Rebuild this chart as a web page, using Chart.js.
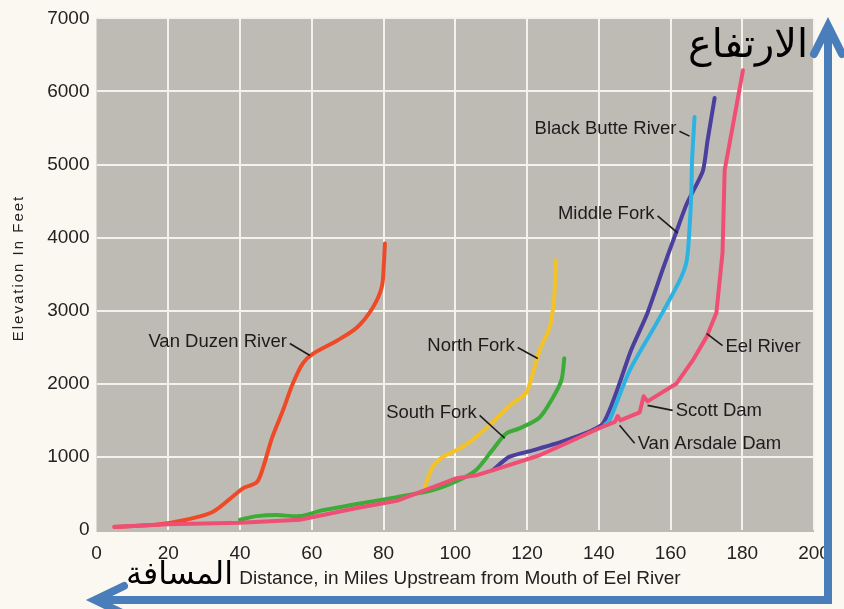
<!DOCTYPE html>
<html>
<head>
<meta charset="utf-8">
<script src="https://cdn.jsdelivr.net/npm/chart.js@4.4.1/dist/chart.umd.min.js"></script>
<style>
  body { margin: 0; background: #faf8f0; }
  canvas { display: block; }
</style>
</head>
<body>
<canvas id="profileChart" width="844" height="609"></canvas>
<script>
// river profiles: miles upstream from the mouth of the Eel / elevation in feet
var eelMiles = [5, 20, 40, 56.7, 72.6, 83.7, 94, 100.4, 106, 112.4, 123.5, 131, 140, 144.5, 145.3, 146, 151.4, 152.5, 153.6, 161.7, 166.2, 170.1, 172.8, 174.5, 175.1, 180.2];
var eelFeet = [40, 80, 100, 140, 300, 400, 590, 710, 750, 846, 1023, 1187, 1390, 1480, 1560, 1500, 1610, 1830, 1760, 2005, 2320, 2646, 2974, 3793, 4925, 6290];

var vanDuzenMiles = [5, 17, 25, 32.5, 39, 41, 44.7, 46.4, 49, 52, 54.7, 57.5, 60.3, 67, 72.6, 77, 79.5, 80.1, 80.4];
var vanDuzenFeet = [45, 75, 140, 250, 500, 575, 655, 850, 1270, 1640, 2000, 2280, 2410, 2590, 2770, 3040, 3320, 3640, 3920];

var southForkMiles = [40, 44.7, 50.3, 56.7, 63, 72.6, 83.7, 93.7, 101, 105.8, 110.3, 114.2, 117.9, 123.5, 127.2, 129.6, 130.4];
var southForkFeet = [140, 190, 205, 190, 270, 355, 450, 545, 680, 820, 1090, 1320, 1390, 1540, 1810, 2050, 2350];

var northForkMiles = [91.5, 93.7, 96.5, 100.3, 104.7, 110.3, 115.9, 119.8, 121.6, 123.5, 126.3, 127.5, 127.9, 128];
var northForkFeet = [590, 860, 1000, 1090, 1230, 1470, 1730, 1880, 2140, 2460, 2770, 3140, 3510, 3690];

var middleForkMiles = [110.5, 115, 121.6, 131, 141.2, 149, 153.5, 158, 161.7, 164.5, 169, 170.3, 172.3];
var middleForkFeet = [820, 1000, 1090, 1230, 1460, 2460, 2960, 3590, 4090, 4460, 4910, 5320, 5910];

var blackButteMiles = [141.7, 143, 148.6, 156, 162.5, 164.5, 165.3, 165.8, 166, 166.7];
var blackButteFeet = [1440, 1500, 2180, 2820, 3410, 3680, 4130, 4600, 5050, 5650];

var mileTicks = [0, 20, 40, 60, 80, 100, 120, 140, 160, 180, 200];
var feetTicks = [0, 1000, 2000, 3000, 4000, 5000, 6000, 7000];

// callouts: text, leader start and leader tip in data units
var noteText = ['Van Duzen River', 'North Fork', 'South Fork', 'Black Butte River', 'Middle Fork', 'Eel River', 'Scott Dam', 'Van Arsdale Dam'];
var noteFrom = [[53.9, 2551], [117.4, 2497], [106.8, 1569], [162.5, 5457], [156.4, 4297], [174.5, 2524], [160.6, 1637], [150.0, 1187]];
var noteTo = [[59.5, 2387], [123.0, 2346], [113.8, 1255], [165.3, 5389], [162.0, 4065], [170.1, 2688], [153.6, 1705], [145.8, 1432]];

function pts(xs, ys) {
  return xs.map(function (x, i) { return { x: x, y: ys[i] }; });
}

function fitFont(ctx, text, family, width) {
  ctx.font = '40px ' + family;
  return 40 * width / ctx.measureText(text).width;
}

var plateDecor = {
  id: 'plateDecor',
  beforeDraw: function (chart) {
    var ctx = chart.ctx, a = chart.chartArea;
    ctx.save();
    ctx.fillStyle = '#bebbb5';
    ctx.fillRect(a.left, a.top, a.right - a.left, a.bottom - a.top + 2);
    ctx.restore();
  },
  afterDraw: function (chart) {
    var ctx = chart.ctx, xs = chart.scales.x, ys = chart.scales.y;
    ctx.save();

    // callouts
    ctx.font = '18.5px "Liberation Sans", Arial, sans-serif';
    ctx.fillStyle = '#1c1c1c';
    ctx.strokeStyle = '#1c1c1c';
    ctx.lineWidth = 1.6;
    ctx.textBaseline = 'middle';
    noteText.forEach(function (t, i) {
      var fx = xs.getPixelForValue(noteFrom[i][0]), fy = ys.getPixelForValue(noteFrom[i][1]);
      var tx = xs.getPixelForValue(noteTo[i][0]), ty = ys.getPixelForValue(noteTo[i][1]);
      ctx.beginPath();
      ctx.moveTo(fx, fy);
      ctx.lineTo(tx, ty);
      ctx.stroke();
      if (tx > fx) {
        ctx.textAlign = 'right';
        ctx.fillText(t, fx - 3, fy - 2);
      } else {
        ctx.textAlign = 'left';
        ctx.fillText(t, fx + 3, fy + 1);
      }
    });

    // axis titles
    ctx.fillStyle = '#222';
    ctx.textAlign = 'center';
    ctx.font = '19px "Liberation Sans", Arial, sans-serif';
    ctx.fillText('Distance, in Miles Upstream from Mouth of Eel River', 460, 579);
    ctx.save();
    ctx.translate(19, 268);
    ctx.rotate(-Math.PI / 2);
    ctx.font = '15px "Liberation Sans", Arial, sans-serif';
    ctx.letterSpacing = '2px';
    ctx.fillText('Elevation In Feet', 0, 0);
    ctx.restore();

    // Arabic notes and blue arrows added over the plate
    ctx.fillStyle = '#000';
    ctx.textAlign = 'right';
    ctx.textBaseline = 'alphabetic';
    var s1 = fitFont(ctx, 'المسافة', '"DejaVu Sans"', 107);
    ctx.font = s1 + 'px "DejaVu Sans"';
    ctx.fillText('المسافة', 233, 584);
    var s2 = fitFont(ctx, 'الارتفاع', '"DejaVu Sans"', 120);
    ctx.font = s2 + 'px "DejaVu Sans"';
    ctx.fillText('الارتفاع', 808, 57);

    ctx.strokeStyle = '#4a7ebb';
    ctx.lineWidth = 8;
    ctx.lineCap = 'butt';
    ctx.beginPath();
    ctx.moveTo(828, 30);
    ctx.lineTo(828, 604);
    ctx.moveTo(832, 600);
    ctx.lineTo(100, 600);
    ctx.stroke();
    ctx.lineCap = 'round';
    ctx.lineJoin = 'miter';
    ctx.beginPath();
    ctx.moveTo(814, 54);
    ctx.lineTo(828, 26);
    ctx.lineTo(842, 54);
    ctx.moveTo(124, 586);
    ctx.lineTo(95, 600);
    ctx.lineTo(124, 614);
    ctx.stroke();

    ctx.restore();
  }
};

var gridColor = function (c) {
  return c.tick && c.tick.value === 0 ? 'rgba(0,0,0,0)' : '#f4f2ec';
};

var plainTick = function (v) { return String(v); };

var ctx = document.getElementById('profileChart').getContext('2d');
var profileChart = new Chart(ctx, {
  type: 'line',
  data: {
    datasets: [
      { label: 'Eel River', data: pts(eelMiles, eelFeet), borderColor: '#ef4f74', tension: 0 },
      { label: 'Black Butte River', data: pts(blackButteMiles, blackButteFeet), borderColor: '#2cb3e2', tension: 0.3 },
      { label: 'Middle Fork', data: pts(middleForkMiles, middleForkFeet), borderColor: '#4a3f9c', tension: 0.2 },
      { label: 'North Fork', data: pts(northForkMiles, northForkFeet), borderColor: '#f3c226', tension: 0.3 },
      { label: 'South Fork', data: pts(southForkMiles, southForkFeet), borderColor: '#3cab38', tension: 0.3 },
      { label: 'Van Duzen River', data: pts(vanDuzenMiles, vanDuzenFeet), borderColor: '#ee4a28', tension: 0.3 }
    ]
  },
  options: {
    responsive: false,
    animation: false,
    layout: { padding: { top: 17, right: 30, left: 0, bottom: 0 } },
    plugins: {
      legend: { display: false },
      tooltip: { enabled: false }
    },
    elements: {
      line: { borderWidth: 4, borderCapStyle: 'round', borderJoinStyle: 'round' },
      point: { radius: 0 }
    },
    scales: {
      x: {
        type: 'linear',
        min: mileTicks[0],
        max: mileTicks[mileTicks.length - 1],
        afterFit: function (s) { s.height = 79; },
        afterBuildTicks: function (s) { s.ticks = mileTicks.map(function (v) { return { value: v }; }); },
        border: { display: false },
        grid: { color: gridColor, lineWidth: 2, drawTicks: false },
        ticks: {
          padding: 12,
          color: '#222',
          callback: plainTick,
          font: { family: '"Liberation Sans", Arial, sans-serif', size: 19 },
          maxRotation: 0
        }
      },
      y: {
        type: 'linear',
        min: feetTicks[0],
        max: feetTicks[feetTicks.length - 1],
        afterFit: function (s) { s.width = 96.5; },
        afterBuildTicks: function (s) { s.ticks = feetTicks.map(function (v) { return { value: v }; }); },
        border: { display: false },
        grid: { color: gridColor, lineWidth: 2, drawTicks: false },
        ticks: {
          padding: 7,
          color: '#222',
          callback: plainTick,
          font: { family: '"Liberation Sans", Arial, sans-serif', size: 19 }
        }
      }
    }
  },
  plugins: [plateDecor]
});
</script>
</body>
</html>
